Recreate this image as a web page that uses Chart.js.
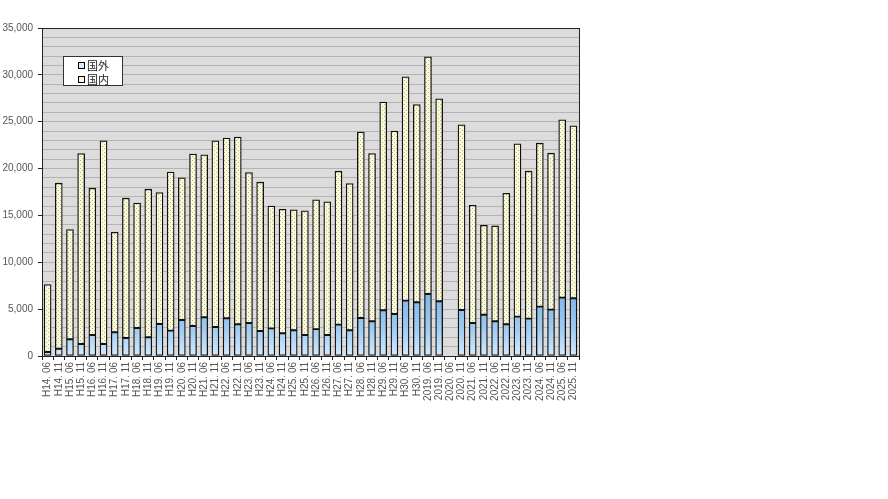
<!DOCTYPE html>
<html>
<head>
<meta charset="utf-8">
<script src="https://cdn.jsdelivr.net/npm/chart.js@4.4.1/dist/chart.umd.min.js"></script>
<style>
  html, body { margin: 0; padding: 0; background: #fff; }
  #wrap { position: relative; width: 888px; height: 499px; }
  #legend {
    position: absolute; left: 63px; top: 56px; width: 60px; height: 30px;
    background: #fff; border: 1px solid #333; box-sizing: border-box;
    font: 11px "Noto Sans CJK JP", sans-serif; color: #222; padding: 1px 0 0 14px;
  }
  #legend div { height: 14px; line-height: 14px; }
  #legend span.box {
    display: inline-block; width: 5px; height: 5px; border: 1px solid #000;
    margin-right: 2px; vertical-align: 1px;
  }
</style>
</head>
<body>
<div id="wrap">
  <canvas id="c" width="888" height="499"></canvas>
  <div id="legend">
    <div><span class="box" style="background:#d8ecfc"></span>国外</div>
    <div><span class="box" style="background:#fafad2"></span>国内</div>
  </div>
</div>
<script>
// 調査時点
const labels = [
  'H14. 06', 'H14. 11', 'H15. 06', 'H15. 11', 'H16. 06', 'H16. 11', 'H17. 06', 'H17. 11',
  'H18. 06', 'H18. 11', 'H19. 06', 'H19. 11', 'H20. 06', 'H20. 11', 'H21. 06', 'H21. 11',
  'H22. 06', 'H22. 11', 'H23. 06', 'H23. 11', 'H24. 06', 'H24. 11', 'H25. 06', 'H25. 11',
  'H26. 06', 'H26. 11', 'H27. 06', 'H27. 11', 'H28. 06', 'H28. 11', 'H29. 06', 'H29. 11',
  'H30. 06', 'H30. 11', '2019. 06', '2019. 11', '2020. 06', '2020. 11', '2021. 06', '2021. 11',
  '2022. 06', '2022. 11', '2023. 06', '2023. 11', '2024. 06', '2024. 11', '2025. 06', '2025. 11'
];

// 国外（下段）
const foreign = [
  430, 780, 1780, 1280, 2240, 1280, 2530, 1920,
  2990, 2000, 3420, 2710, 3840, 3200, 4130, 3100,
  4020, 3380, 3520, 2670, 2950, 2420, 2740, 2240,
  2870, 2240, 3350, 2740, 4060, 3700, 4880, 4490,
  5910, 5730, 6620, 5840, null, 4910, 3520, 4410,
  3700, 3380, 4200, 3990, 5270, 4950, 6230, 6160
];

// 国内（上段）
const domestic = [
  7190, 17660, 11710, 20330, 15670, 21680, 10680, 14920,
  13320, 15800, 14020, 16910, 15170, 18340, 17340, 19860,
  19230, 19980, 16060, 15880, 13040, 13240, 12850, 13250,
  13790, 14210, 16370, 15670, 19830, 17910, 22210, 19510,
  23890, 21110, 25310, 21610, null, 19760, 12570, 9540,
  10180, 13990, 18440, 15730, 17440, 16690, 18970, 18400
];

const yMax = 35000;
const yGridStep = 1000;
const yLabelStep = 5000;

// 国内の網掛けパターン
function dotPattern() {
  const p = document.createElement('canvas');
  p.width = 4; p.height = 4;
  const g = p.getContext('2d');
  g.fillStyle = '#fbfbd6';
  g.fillRect(0, 0, 4, 4);
  g.fillStyle = '#b2b29c';
  g.fillRect(0, 0, 1, 1);
  g.fillRect(2, 2, 1, 1);
  return g.createPattern(p, 'repeat');
}

// 国外の縦グラデーション
function blueFill(context) {
  const chart = context.chart;
  const area = chart.chartArea;
  if (!area) return '#9cc8f0';
  const grad = chart.ctx.createLinearGradient(0, area.bottom - 70, 0, area.bottom);
  grad.addColorStop(0, '#78b2e8');
  grad.addColorStop(0.6, '#9ccaf2');
  grad.addColorStop(1, '#d4eafc');
  return grad;
}

// プロットエリアの背景と枠
const plotFrame = {
  id: 'plotFrame',
  beforeDraw(chart) {
    const { ctx, chartArea: a } = chart;
    ctx.save();
    ctx.fillStyle = '#dcdcdc';
    ctx.fillRect(a.left, a.top, a.right - a.left, a.bottom - a.top);
    ctx.restore();
  },
  afterDraw(chart) {
    const { ctx, chartArea: a } = chart;
    ctx.save();
    ctx.strokeStyle = '#222';
    ctx.lineWidth = 1;
    ctx.strokeRect(Math.round(a.left) + 0.5, Math.round(a.top) + 0.5,
      Math.round(a.right - a.left), Math.round(a.bottom - a.top));
    ctx.restore();
  }
};

const ctx = document.getElementById('c').getContext('2d');
new Chart(ctx, {
  type: 'bar',
  data: {
    labels: labels,
    datasets: [
      {
        label: '国外',
        data: foreign,
        backgroundColor: blueFill,
        borderColor: '#111',
        borderWidth: 1.3,
        borderSkipped: false,
        stack: 's'
      },
      {
        label: '国内',
        data: domestic,
        backgroundColor: dotPattern(),
        borderColor: '#111',
        borderWidth: 1.3,
        borderSkipped: false,
        stack: 's'
      }
    ]
  },
  options: {
    responsive: false,
    animation: false,
    devicePixelRatio: 1,
    layout: { padding: { left: 0, top: 28, right: 309, bottom: 0 } },
    datasets: { bar: { categoryPercentage: 1, barThickness: 7 } },
    plugins: {
      legend: { display: false },
      tooltip: { enabled: false }
    },
    scales: {
      x: {
        stacked: true,
        afterFit: s => { s.height = 143; },
        grid: {
          offset: true,
          drawOnChartArea: false,
          tickLength: 4,
          color: '#222'
        },
        border: { color: '#222' },
        ticks: {
          autoSkip: false,
          maxRotation: 90,
          minRotation: 90,
          padding: 2,
          color: '#555',
          font: { size: 10, family: 'Liberation Sans, Arial, sans-serif' }
        }
      },
      y: {
        stacked: true,
        min: 0,
        max: yMax,
        afterFit: s => { s.width = 42; },
        grid: {
          color: '#b4b4b4',
          tickLength: 4,
          tickColor: c => (c.tick && c.tick.value % yLabelStep === 0) ? '#222' : 'rgba(0,0,0,0)'
        },
        border: { color: '#222' },
        ticks: {
          stepSize: yGridStep,
          autoSkip: false,
          padding: 5,
          color: '#555',
          font: { size: 10, family: 'Liberation Sans, Arial, sans-serif' },
          callback: v => (v % yLabelStep === 0) ? v.toLocaleString('en-US') : ''
        }
      }
    }
  },
  plugins: [plotFrame]
});
</script>
</body>
</html>
